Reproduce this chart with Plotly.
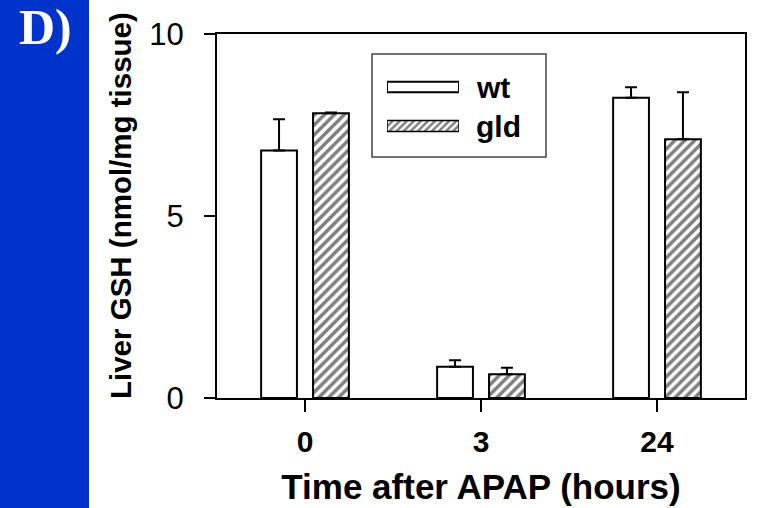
import plotly.graph_objects as go

# ---- data ----
categories = ["0", "3", "24"]
wt_values = [6.80, 0.86, 8.25]
wt_errors = [0.86, 0.18, 0.29]
gld_values = [7.82, 0.65, 7.11]
gld_errors = [0.02, 0.18, 1.29]
series_names = ["wt", "gld"]
y_ticks = [0, 5, 10]

W, H = 777, 508
L, R, T, B = 217, 745, 34, 398  # plot area in px


def px_x(px):
    return (px - L) / (R - L)


def px_y(py):
    return (B - py) / (B - T)


FONT = "Liberation Sans, Arial, sans-serif"

fig = go.Figure()
fig.add_trace(go.Bar(
    x=categories, y=wt_values, name=series_names[0],
    marker=dict(color="white", line=dict(color="black", width=2)),
    error_y=dict(type="data", array=wt_errors, arrayminus=[0] * 3, symmetric=False,
                 color="black", thickness=2, width=6),
    showlegend=False,
))
fig.add_trace(go.Bar(
    x=categories, y=gld_values, name=series_names[1],
    marker=dict(color="white", line=dict(color="black", width=2),
                pattern=dict(shape="/", fgcolor="black", bgcolor="white", size=7, solidity=0.5)),
    error_y=dict(type="data", array=gld_errors, arrayminus=[0] * 3, symmetric=False,
                 color="black", thickness=2, width=6),
    showlegend=False,
))

# legend swatches drawn in an inset axis
sw_y = [0.757, 0.2]
fig.add_trace(go.Bar(
    x=[1], y=[sw_y[0]], orientation="h", width=0.15, xaxis="x2", yaxis="y2",
    marker=dict(color="white", line=dict(color="black", width=2)), showlegend=False,
    hoverinfo="skip",
))
fig.add_trace(go.Bar(
    x=[1], y=[sw_y[1]], orientation="h", width=0.16, xaxis="x2", yaxis="y2",
    marker=dict(color="white", line=dict(color="black", width=1.5),
                pattern=dict(shape="/", fgcolor="black", bgcolor="white", size=5, solidity=0.5)),
    showlegend=False, hoverinfo="skip",
))

shapes = [
    # blue strip
    dict(type="rect", xref="paper", yref="paper",
         x0=px_x(0), x1=px_x(89), y0=px_y(H), y1=px_y(0),
         fillcolor="#0033CC", line=dict(width=0), layer="below"),
    # legend box
    dict(type="rect", xref="paper", yref="paper",
         x0=px_x(372), x1=px_x(546), y0=px_y(157), y1=px_y(54),
         fillcolor="rgba(0,0,0,0)", line=dict(color="#444444", width=1.5)),
]

annotations = [
    dict(text="<b>D)</b>", xref="paper", yref="paper", x=px_x(45), y=px_y(27),
         xanchor="center", yanchor="middle", showarrow=False,
         font=dict(family="Liberation Serif, Times New Roman, serif", size=50, color="white")),
    dict(text="<b>Liver GSH (nmol/mg tissue)</b>", xref="paper", yref="paper",
         x=px_x(120), y=px_y(206), textangle=-90, xanchor="center", yanchor="middle",
         showarrow=False, font=dict(family=FONT, size=29.5, color="black")),
    dict(text="<b>" + series_names[0] + "</b>", xref="paper", yref="paper",
         x=px_x(474), y=px_y(87), xanchor="left", yanchor="middle", showarrow=False,
         font=dict(family=FONT, size=30, color="black")),
    dict(text="<b>" + series_names[1] + "</b>", xref="paper", yref="paper",
         x=px_x(474), y=px_y(126), xanchor="left", yanchor="middle", showarrow=False,
         font=dict(family=FONT, size=30, color="black")),
]

fig.update_layout(
    width=W, height=H,
    margin=dict(l=L, r=W - R, t=T, b=H - B, pad=0, autoexpand=False),
    paper_bgcolor="white", plot_bgcolor="white",
    barmode="group", bargap=0.41, bargroupgap=0.31,
    shapes=shapes, annotations=annotations,
    font=dict(family=FONT, color="black"),
    xaxis=dict(
        type="category", range=[-0.5, 2.5], automargin=False,
        showline=True, linecolor="black", linewidth=2, mirror=True,
        ticks="outside", ticklen=12, tickwidth=2, tickcolor="black",
        tickfont=dict(family=FONT, size=30, color="black", weight="bold"),
        ticklabelstandoff=4,
        title=dict(text="<b>Time after APAP (hours)</b>",
                   font=dict(family=FONT, size=35, color="black"), standoff=17),
        showgrid=False, zeroline=False,
    ),
    yaxis=dict(
        range=[0, 10], tickvals=y_ticks, automargin=False,
        showline=True, linecolor="black", linewidth=2, mirror=True,
        ticks="outside", ticklen=11, tickwidth=2, tickcolor="black",
        tickfont=dict(family=FONT, size=31, color="black"),
        ticklabelstandoff=14,
        showgrid=False, zeroline=False,
    ),
    xaxis2=dict(domain=[px_x(387), px_x(459)], range=[0, 1], anchor="y2",
                visible=False, fixedrange=True),
    yaxis2=dict(domain=[px_y(140), px_y(70)], range=[0, 1], anchor="x2",
                visible=False, fixedrange=True),
)

fig.write_html("out.html")
